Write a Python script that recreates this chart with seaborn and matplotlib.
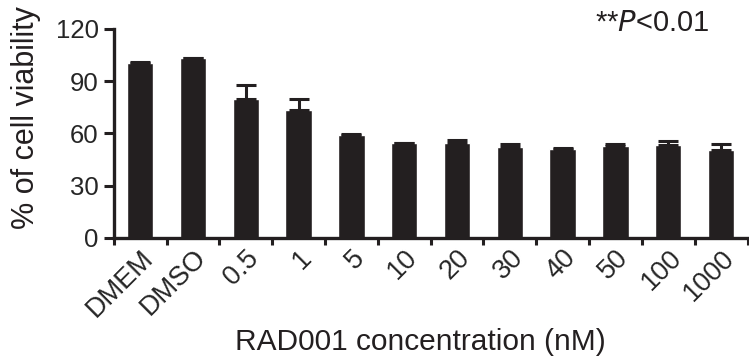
import numpy as np
import pandas as pd
import matplotlib
matplotlib.use("Agg")
import matplotlib.pyplot as plt
import seaborn as sns

categories = ["DMEM", "DMSO", "0.5", "1", "5", "10", "20", "30", "40", "50", "100", "1000"]
viability = [100.5, 103.0, 80.0, 73.5, 58.8, 54.4, 54.4, 51.9, 51.3, 52.9, 53.4, 50.7]
sem = [0.3, 0.5, 8.0, 6.5, 0.6, 0.3, 2.0, 2.0, 0.3, 0.8, 2.2, 3.0]
yticks = [0, 30, 60, 90, 120]

sns.set_theme(style="ticks")
plt.rcParams['font.family'] = ['Liberation Sans', 'DejaVu Sans']

df = pd.DataFrame({"conc": categories, "viab": viability})

fig = plt.figure(figsize=(7.49, 3.61), dpi=100)
ax = fig.add_axes([0.152, 0.341, 0.846, 0.579])
bar_color = "#231f20"
sns.barplot(data=df, x="conc", y="viab", color=bar_color, width=0.5,
            saturation=1, errorbar=None, ax=ax, order=categories)

xs = [p.get_x() + p.get_width() / 2 for p in ax.patches]
ax.errorbar(xs, viability, yerr=[np.zeros(len(sem)), sem], fmt="none",
            ecolor=bar_color, elinewidth=2.2, capsize=7, capthick=2.2)

ax.set_xlim(-0.5, len(categories) - 0.5)
ax.set_ylim(0, 120)
ax.set_yticks(yticks)
ax.set_yticklabels([str(v) for v in yticks], fontsize=18.5)
ax.set_xticks(range(len(categories)))
ax.set_xticklabels(categories, rotation=45, ha="right", rotation_mode="anchor", fontsize=19.5)
ax.tick_params(axis="x", which="major", length=0, pad=5)
ax.set_xticks(np.arange(-0.5, len(categories), 1.0), minor=True)
ax.tick_params(axis="x", which="minor", length=5, width=2.2, color=bar_color)
ax.tick_params(axis="y", length=7, width=2.2, color=bar_color, pad=4)

for s in ["left", "bottom"]:
    ax.spines[s].set_linewidth(2.4)
    ax.spines[s].set_color(bar_color)
for s in ["top", "right"]:
    ax.spines[s].set_visible(False)

ax.set_ylabel("% of cell viability", fontsize=22, color="#231f20")
ax.yaxis.set_label_coords(-0.115, 0.577)
ax.set_xlabel("RAD001 concentration (nM)", fontsize=21.5, color="#231f20")
ax.xaxis.set_label_coords(0.483, -0.43)

fig.text(0.795, 0.937, "**$\\it{P}$<0.01", fontsize=21, color="#231f20", va="center", ha="left")

fig.savefig("out.png", dpi=100)
